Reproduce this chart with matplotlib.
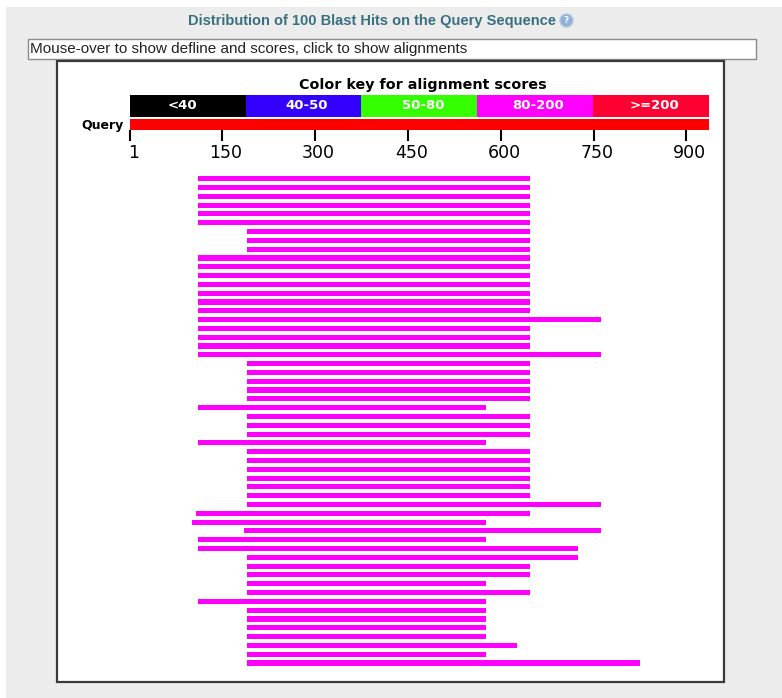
import matplotlib
matplotlib.use('Agg')
import matplotlib.pyplot as plt
from matplotlib.patches import Rectangle, Circle
from matplotlib.transforms import ScaledTranslation

# Constants
W, H = 782, 698
QUERY_LEN = 936

KEY_LABELS = ['<40', '40-50', '50-80', '80-200', '>=200']
KEY_COLORS = ['#000000', '#3300ff', '#33ff00', '#ff00ff', '#ff0033']
TICKS = [1, 150, 300, 450, 600, 750, 900]

# hit start / end on the query, top row first
HIT_START = [110, 110, 110, 110, 110, 110, 189, 189, 189, 110, 110, 110, 110, 110,
             110, 110, 110, 110, 110, 110, 110, 189, 189, 189, 189, 189, 110, 189,
             189, 189, 110, 189, 189, 189, 189, 189, 189, 189, 107, 101, 185, 110,
             110, 189, 189, 189, 189, 189, 110, 189, 189, 189, 189, 189, 189, 189]
HIT_END = [646, 646, 646, 646, 646, 646, 646, 646, 646, 646, 646, 646, 646, 646,
           646, 646, 761, 646, 646, 646, 761, 646, 646, 646, 646, 646, 575, 646,
           646, 646, 575, 646, 646, 646, 646, 646, 646, 761, 646, 575, 761, 575,
           725, 725, 646, 646, 575, 646, 575, 575, 575, 575, 575, 625, 575, 824]


def px_axes(fig, left, top, right, bottom):
    return fig.add_axes([left / W, 1 - bottom / H, (right - left) / W, (bottom - top) / H])


fig = plt.figure(figsize=(W / 100, H / 100), dpi=100, facecolor='white')

# page furniture, drawn in pixel coordinates
page = fig.add_axes([0, 0, 1, 1])
page.set_xlim(0, W)
page.set_ylim(H, 0)
page.axis('off')
page.add_patch(Rectangle((6, 7), W - 6, H - 7, fc='#ececec', ec='none'))
page.add_patch(Rectangle((27.5, 38.5), 728, 20, fc='white', ec='#8a8a8a', lw=1))
page.add_patch(Rectangle((57, 60.5), 667, 621.5, fc='white', ec='#3a3a3a', lw=1.6))
page.text(371.5, 20.5, 'Distribution of 100 Blast Hits on the Query Sequence', ha='center', va='center',
          family='Liberation Sans', fontweight='bold', fontsize=10.5, color='#3a6f80')
page.add_patch(Circle((566.5, 20.5), 6.5, fc='#8fb0d8', ec='#b8c8dc', lw=1))
page.text(566.5, 20.5, '?', ha='center', va='center', fontsize=6.5, fontweight='bold', color='white')
page.text(30, 48.5, 'Mouse-over to show defline and scores, click to show alignments', ha='left', va='center',
          family='Liberation Sans', fontsize=11, color='#222222')
page.text(422.5, 85, 'Color key for alignment scores', ha='center', va='center',
          family='DejaVu Sans', fontweight='bold', fontsize=10.3, color='black')
page.text(124, 125, 'Query', ha='right', va='center', family='DejaVu Sans',
          fontweight='bold', fontsize=9, color='black')

# color key
key = px_axes(fig, 130, 95, 708.7, 116.7)
key.barh(0, [1] * 5, left=range(5), height=1, color=KEY_COLORS)
key.set_xlim(0, 5)
key.set_ylim(-0.5, 0.5)
key.axis('off')
for i, label in enumerate(KEY_LABELS):
    nudge = 0.45 if i == 0 else 0.53
    key.text(i + nudge, 0, label, ha='center', va='center', color='white', family='DejaVu Sans',
             fontweight='bold', fontsize=9.5)

# query bar and ruler
ruler = px_axes(fig, 130, 119.3, 708.7, 130.3)
ruler.barh(0, QUERY_LEN - 1, left=1, height=1, color='#ff0000')
ruler.set_xlim(1, QUERY_LEN)
ruler.set_ylim(-0.5, 0.5)
ruler.set_yticks([])
for side in ruler.spines.values():
    side.set_visible(False)
ruler.set_xticks(TICKS)
ruler.set_xticklabels([str(t) for t in TICKS], family='DejaVu Sans', fontsize=12.5)
ruler.tick_params(axis='x', length=8, width=1.5, pad=2, color='black')
shift = ScaledTranslation(3.5 / 100, 0, fig.dpi_scale_trans)
for lab in ruler.get_xticklabels():
    lab.set_transform(lab.get_transform() + shift)

# hits
ax = px_axes(fig, 130.5, 174.3, 709, 667.4)
rows = list(range(len(HIT_START)))
widths = [e - s for s, e in zip(HIT_START, HIT_END)]
ax.barh(rows, widths, left=HIT_START, height=0.58, color='#ff00ff')
ax.set_xlim(1, QUERY_LEN)
ax.set_ylim(len(rows) - 0.5, -0.5)
ax.axis('off')

fig.savefig('out.png', dpi=100, facecolor=fig.get_facecolor())
